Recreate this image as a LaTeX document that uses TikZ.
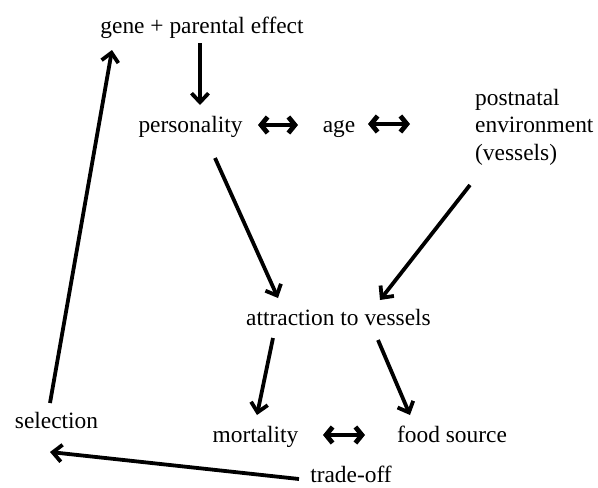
\documentclass[tikz,border=0pt]{standalone}
\usepackage{fontspec}
\setmainfont{Liberation Serif}
\usetikzlibrary{arrows.meta,calc}
\begin{document}
\begin{tikzpicture}[x=1pt,y=-1pt,
  lbl/.style={inner sep=0pt,font=\fontsize{23.4}{27.5}\selectfont},
  arr/.style={line width=3.8pt,-{Straight Barb[length=9pt,width=17pt,line width=3.8pt]}},
  darr/.style={line width=4.8pt,{Straight Barb[length=6.5pt,width=16pt,line width=4.8pt]}-{Straight Barb[length=6.5pt,width=16pt,line width=4.8pt]}}]
\useasboundingbox[fill=white] (0,0) rectangle (598,488);
\node[lbl,anchor=base] (gene) at (202,33) {gene + parental effect};
\node[lbl,anchor=base] (pers) at (190.5,132) {personality};
\node[lbl,anchor=base] (age) at (339,132) {age};
\node[lbl,anchor=west,align=left] (post) at (475,127) {postnatal\\environment\\(vessels)};
\node[lbl,anchor=base] (attr) at (338.5,325) {attraction to vessels};
\node[lbl,anchor=base] (mort) at (255.5,442) {mortality};
\node[lbl,anchor=base] (food) at (452,442) {food source};
\node[lbl,anchor=base] (sel) at (56.5,428) {selection};
\node[lbl,anchor=base] (trade) at (351,482) {trade-off};
% connectors
\draw[arr] ($(gene.base)+(-2,10)$) -- ($(pers.base)+(9.5,-27)$);
\draw[darr] ($(pers.base)+(67.5,-7)$) -- ($(age.base)+(-41,-7)$);
\draw[darr] ($(age.base)+(29,-8)$) -- ($(post.west)+(-65,-3)$);
\draw[arr] ($(pers.base)+(24.5,26)$) -- ($(attr.base)+(-60.5,-27)$);
\draw[arr] ($(post.west)+(-5,58)$) -- ($(attr.base)+(41.5,-25)$);
\draw[arr] ($(attr.base)+(-65.5,13)$) -- ($(mort.base)+(1.5,-27)$);
\draw[arr] ($(attr.base)+(39.5,15)$) -- ($(food.base)+(-42,-27)$);
\draw[darr] ($(mort.base)+(67.5,-7)$) -- ($(food.base)+(-87,-7)$);
\draw[arr] ($(sel.base)+(-6.5,-25)$) -- ($(gene.base)+(-90,17)$);
\draw[arr] ($(trade.base)+(-52,-3)$) -- ($(sel.base)+(-6.5,24)$);
\end{tikzpicture}
\end{document}
